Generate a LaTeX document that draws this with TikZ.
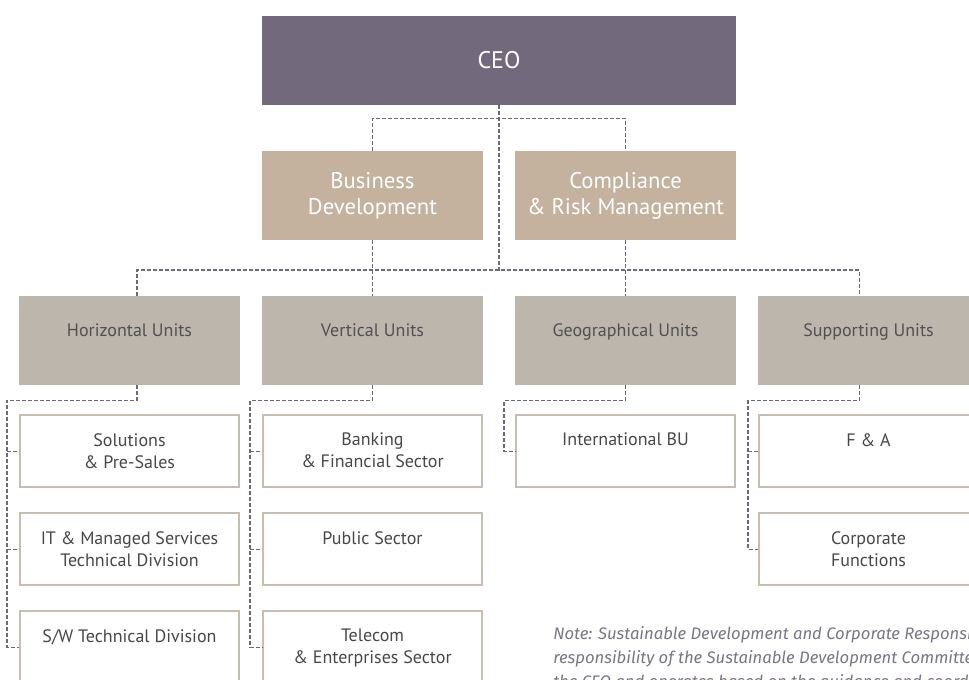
\documentclass[tikz,border=0pt]{standalone}
\usepackage{fontspec}
\setmainfont{PT Sans}
\newfontfamily\notefont{Fira Sans}
\usetikzlibrary{positioning,calc}
\definecolor{ceofill}{HTML}{726A7C}
\definecolor{deptfill}{HTML}{C4B29F}
\definecolor{unitfill}{HTML}{BDB6AC}
\definecolor{unittext}{HTML}{505053}
\definecolor{subline}{HTML}{C6BEB3}
\definecolor{subtext}{HTML}{47474A}
\definecolor{linkcol}{HTML}{6D6879}
\definecolor{notecol}{HTML}{7A7584}

\begin{document}
\begin{tikzpicture}[x=0.75pt, y=-0.75pt,
  ceobox/.style={rectangle, fill=ceofill, minimum width=355.5pt, minimum height=66.75pt, text=white, font=\fontsize{18}{21}\selectfont},
  deptbox/.style={rectangle, fill=deptfill, minimum width=165.75pt, minimum height=66.75pt, align=center, text=white, font=\fontsize{17}{19.5}\selectfont},
  unitbox/.style={rectangle, fill=unitfill, minimum width=165.75pt, minimum height=66.75pt, inner sep=0pt},
  unitlabel/.style={anchor=north, yshift=-20.5pt, inner sep=0pt, text=unittext, font=\fontsize{13.5}{16.5}\selectfont},
  subbox/.style={rectangle, draw=subline, line width=1.5pt, minimum width=164.25pt, minimum height=54pt, inner sep=0pt},
  sublabel/.style={anchor=north, yshift=-14pt, inner sep=0pt, align=center, text=subtext, font=\fontsize{13.5}{16.5}\selectfont},
  link/.style={draw=linkcol, line width=1.1pt, dash pattern=on 3pt off 1.5pt}
]
\useasboundingbox (0,0) rectangle (969,679);

% top levels
\node[ceobox] (ceo) at (499,60.5) {CEO};
\node[deptbox] (bd) at (372.5,195.5) {Business\\Development};
\node[deptbox] (crm) at (625.5,195.5) {Compliance\\\& Risk Management};

% units
\node[unitbox, label={[unitlabel]north:Horizontal Units}] (hu) at (129.5,340.5) {};
\node[unitbox, label={[unitlabel]north:Vertical Units}] (vu) at (372.5,340.5) {};
\node[unitbox, label={[unitlabel]north:Geographical Units}] (gu) at (625.5,340.5) {};
\node[unitbox, label={[unitlabel]north:Supporting Units}] (su) at (868.5,340.5) {};

% horizontal units
\node[subbox, below=21.75pt of hu, label={[sublabel]north:{Solutions\\\& Pre-Sales}}] (h1) {};
\node[subbox, below=18pt of h1, label={[sublabel]north:{IT \& Managed Services\\Technical Division}}] (h2) {};
\node[subbox, below=18pt of h2, label={[sublabel]north:{S/W Technical Division}}] (h3) {};

% vertical units
\node[subbox, below=21.75pt of vu, label={[sublabel]north:{Banking\\\& Financial Sector}}] (v1) {};
\node[subbox, below=18pt of v1, label={[sublabel]north:{Public Sector}}] (v2) {};
\node[subbox, below=18pt of v2, label={[sublabel]north:{Telecom\\\& Enterprises Sector}}] (v3) {};

% geographical units
\node[subbox, below=21.75pt of gu, label={[sublabel]north:{International BU}}] (g1) {};

% supporting units
\node[subbox, below=21.75pt of su, label={[sublabel]north:{F \& A}}] (s1) {};
\node[subbox, below=18pt of s1, label={[sublabel]north:{Corporate\\Functions}}] (s2) {};

% connectors
\coordinate (bus) at (499,270);
\draw[link] (ceo.south) -- (bus);
\draw[link] (bd.north) |- ($(ceo.south)+(0,13)$) -| (crm.north);
\draw[link] ([xshift=5.6pt]hu.north) |- (bus) -| ([xshift=-6.75pt]su.north);
\draw[link] (bd.south) -- (vu.north);
\draw[link] (crm.south) -- (gu.north);

\draw[link] ([xshift=5.6pt]hu.south) -- ++(0,15) -| ($(h3.west)+(-12,0)$) -- (h3.west);
\draw[link] (vu.south) -- ++(0,15) -| ($(v3.west)+(-12,0)$) -- (v3.west);
\draw[link] (gu.south) -- ++(0,15) -| ($(g1.west)+(-11,0)$) -- (g1.west);
\draw[link] ([xshift=-6.75pt]su.south) -- ++(0,15) -| ($(s2.west)+(-10,0)$) -- (s2.west);
\foreach \n in {h1,h2,v1,v2}
  \draw[link] ($(\n.west)+(-12,0)$) -- (\n.west);
\draw[link] ($(s1.west)+(-10,0)$) -- (s1.west);

% note
\node[anchor=north west, inner sep=0pt, align=left, text=notecol, font=\notefont\itshape\fontsize{12.5}{18}\selectfont] (note) at (553,626) {Note: Sustainable Development and Corporate Responsibility\\responsibility of the Sustainable Development Committee\\the CEO and operates based on the guidance and coordination};
\end{tikzpicture}
\end{document}
